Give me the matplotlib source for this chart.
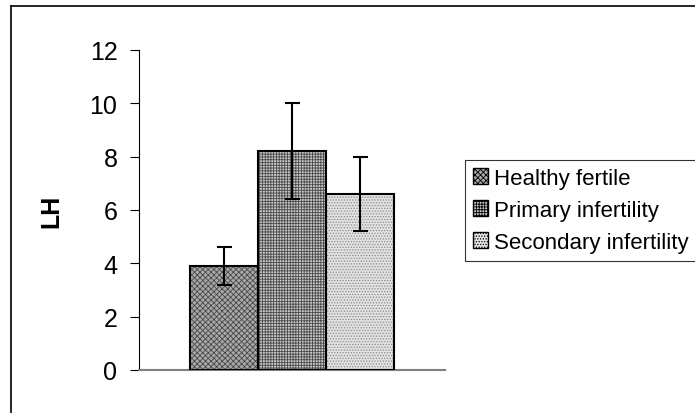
import matplotlib.pyplot as plt
from matplotlib.lines import Line2D
import numpy as np

plt.rcParams['font.family'] = ['Liberation Sans', 'DejaVu Sans']
plt.rcParams['hatch.linewidth'] = 0.6

# Data
groups = ['Healthy fertile', 'Primary infertility', 'Secondary infertility']
lh_means = [3.9, 8.2, 6.6]
lh_err = [0.7, 1.8, 1.4]
y_ticks = [0, 2, 4, 6, 8, 10, 12]

faces = ['#a8a8a8', '#c8c8c8', '#e2e2e2']
hatches = ['xxxxxx', '++++++', '......']
hatch_cols = ['#484848', '#4a4a4a', '#8a8a8a']

fig = plt.figure(figsize=(6.95, 4.14), dpi=100)
ax = fig.add_axes([0.2, 0.1039, 0.4403, 0.773])

x = np.arange(len(groups))
bars = []
for i in range(len(groups)):
    b = ax.bar(x[i], lh_means[i], width=1.0, facecolor=faces[i], edgecolor=hatch_cols[i],
               hatch=hatches[i], linewidth=0, label=groups[i], zorder=2)
    # black outline drawn separately so hatch colour stays gray
    ax.bar(x[i], lh_means[i], width=1.0, facecolor='none', edgecolor='black',
           linewidth=1.5, zorder=3)
    bars.append(b)

ax.errorbar(x, lh_means, yerr=lh_err, fmt='none', ecolor='black', elinewidth=1.5,
            capsize=5.4, capthick=1.5, zorder=4)

ax.set_xlim(-1.25, 3.25)
ax.set_ylim(0, 12)
ax.set_yticks(y_ticks)
ax.set_yticklabels([str(t) for t in y_ticks], fontsize=18)
ax.set_xticks([])
ax.tick_params(axis='y', length=6.5, width=0.8, direction='out', pad=9)
ax.spines['top'].set_visible(False)
ax.spines['right'].set_visible(False)
ax.spines['left'].set_linewidth(0.8)
ax.spines['bottom'].set_color('#808080')
ax.spines['bottom'].set_linewidth(1.5)
ax.set_ylabel('LH', fontsize=18, fontweight='bold', labelpad=19)

leg = fig.legend(handles=bars, labels=groups, loc='upper left',
                 bbox_to_anchor=(0.669, 0.611), borderaxespad=0, fontsize=16,
                 frameon=True, fancybox=False, handlelength=0.7, handleheight=0.7,
                 handletextpad=0.25, labelspacing=0.5, borderpad=0.35)
leg.get_frame().set_edgecolor('black')
leg.get_frame().set_linewidth(0.8)
for h in leg.legend_handles:
    h.set_edgecolor('black')
    h.set_linewidth(1.0)

# outer chart border (cropped at right/bottom)
fig.add_artist(Line2D([11 / 695, 1.0], [1 - 7 / 414, 1 - 7 / 414], color='black', lw=1.2))
fig.add_artist(Line2D([11 / 695, 11 / 695], [0.0, 1 - 7 / 414], color='black', lw=1.2))

fig.savefig('out.png', dpi=100)
